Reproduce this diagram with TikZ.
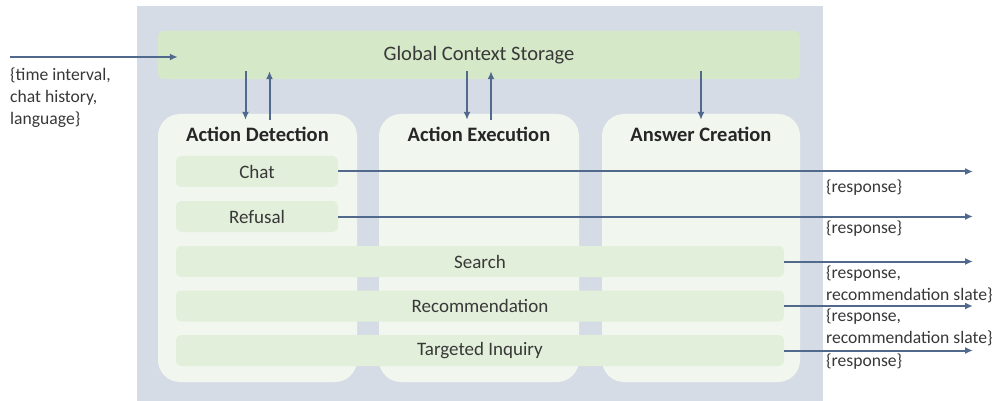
\documentclass[tikz,border=0pt]{standalone}
\usepackage{fontspec}
\setmainfont{Carlito}
\usetikzlibrary{arrows.meta, positioning}
\definecolor{panelgrey}{HTML}{D6DCE5}
\definecolor{storegreen}{HTML}{D5E8C8}
\definecolor{colgreen}{HTML}{F1F6EE}
\definecolor{boxgreen}{HTML}{E2EFDA}
\definecolor{flowblue}{HTML}{50698C}
\definecolor{txtgrey}{HTML}{383838}
\tikzset{flow/.style={draw=flowblue, line width=2pt, -{Latex[length=8pt, width=7pt]}}}
\tikzset{column/.style={fill=colgreen, rounded corners=22pt, minimum width=#1, minimum height=268pt, inner sep=0pt}}
\tikzset{coltitle/.style={inner sep=0pt, font=\fontsize{20.5}{24}\selectfont\bfseries, text=black!85}}
\tikzset{actbox/.style={fill=boxgreen, rounded corners=5pt, minimum width=#1, minimum height=31pt, inner sep=0pt, font=\fontsize{19}{22}\selectfont, text=txtgrey}}
\tikzset{outlabel/.style={anchor=north west, inner sep=0pt, align=left, font=\fontsize{17.6}{22}\selectfont, text=txtgrey}}

\begin{document}
\begin{tikzpicture}[x=1pt, y=-1pt]
            \useasboundingbox (0, 0) rectangle (999, 401);
            \fill[panelgrey] (137, 6) rectangle (823, 401);
            \node[fill=storegreen, rounded corners=5pt, minimum width=642pt, minimum height=48pt, inner sep=0pt,
                  font=\fontsize{20.5}{24}\selectfont, text=txtgrey] (store) at (479, 55) {Global Context Storage};
            \node[column=199pt] (detect) at (257.5, 248) {};
            \node[column=200pt] (execute) at (479, 248) {};
            \node[column=198pt] (answer) at (701, 248) {};
            \node[coltitle] (tdetect) at ([yshift=-21pt]detect.north) {Action Detection};
            \node[coltitle] (texecute) at ([yshift=-21pt]execute.north) {Action Execution};
            \node[coltitle] (tanswer) at ([yshift=-21pt]answer.north) {Answer Creation};
            \node[actbox=162pt] (chat) at (257, 171.5) {Chat};
            \node[actbox=162pt] (refusal) at (257, 216.5) {Refusal};
            \node[actbox=608pt] (search) at (480, 261.5) {Search};
            \node[actbox=608pt] (recommend) at (480, 306) {Recommendation};
            \node[actbox=608pt] (inquiry) at (480, 350.5) {Targeted Inquiry};
            % input
            \coordinate (in) at (10, 57);
            \draw[flow] (in) -- ([xshift=20pt]in -| store.west);
            \node[outlabel] (linput) at (10, 67.5) {\{time interval,\\chat history,\\language\}};
            % storage <-> columns
            \draw[flow] ([xshift=-12pt, yshift=8pt]store.south -| detect.north) -- ([xshift=-12pt, yshift=-6pt]detect.north);
            \draw[flow] ([xshift=12pt, yshift=-6pt]detect.north) -- ([xshift=12pt, yshift=8pt]store.south -| detect.north);
            \draw[flow] ([xshift=-12pt, yshift=8pt]store.south -| execute.north) -- ([xshift=-12pt, yshift=-6pt]execute.north);
            \draw[flow] ([xshift=12pt, yshift=-6pt]execute.north) -- ([xshift=12pt, yshift=8pt]store.south -| execute.north);
            \draw[flow] ([yshift=8pt]store.south -| answer.north) -- ([yshift=-6pt]answer.north);
            % outputs
            \coordinate (rim) at (973, 0);
            \draw[flow] (chat.east) -- (chat.east -| rim);
            \draw[flow] (refusal.east) -- (refusal.east -| rim);
            \draw[flow] (search.east) -- (search.east -| rim);
            \draw[flow] (recommend.east) -- (recommend.east -| rim);
            \draw[flow] (inquiry.east) -- (inquiry.east -| rim);
            \node[outlabel] (lchat) at (826, 179.5) {\{response\}};
            \node[outlabel] (lrefusal) at (826, 220.5) {\{response\}};
            \node[outlabel] (lsearch) at (826, 265.5) {\{response,\\recommendation slate\}};
            \node[outlabel] (lrecommend) at (826, 308.5) {\{response,\\recommendation slate\}};
            \node[outlabel] (linquiry) at (826, 353.5) {\{response\}};
        \end{tikzpicture}
\end{document}
